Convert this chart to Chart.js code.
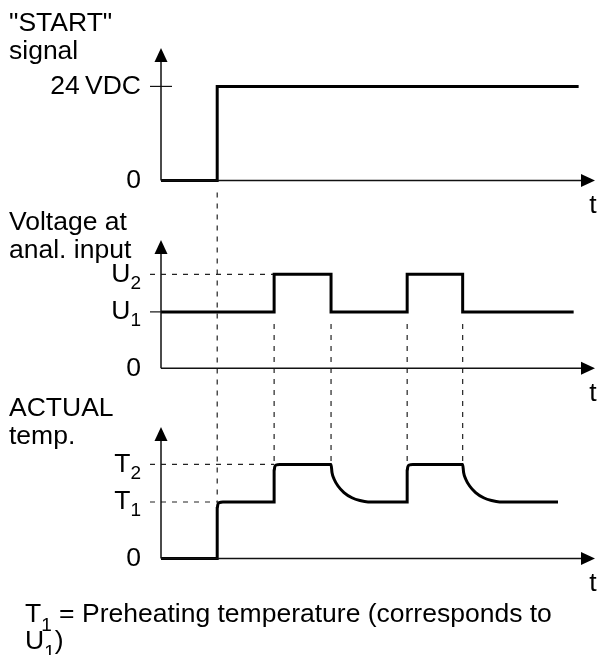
<!DOCTYPE html>
<html lang="en">
<head>
<meta charset="UTF-8">
<title>START signal timing</title>
<script src="https://cdn.jsdelivr.net/npm/chart.js@4.4.0/dist/chart.umd.min.js"></script>
<style>
  body { margin: 0; background: #fff; }
  .chart { width: 598px; height: 655px; }
</style>
</head>
<body>
<div class="chart"><canvas id="timing"></canvas></div>
<script>
// "START" signal (V) over t
const signalTime = [0, 3.95, 3.95, 29.35];
const signalLevel = [0, 0, 24, 24];

// voltage at the analog input, U1 = 6, U2 = 10
const inputTime = [0, 7.95, 7.95, 11.95, 11.95, 17.3, 17.3, 21.2, 21.2, 29];
const inputLevel = [6, 6, 10, 10, 6, 6, 10, 10, 6, 6];

// actual temperature, T1 = 60, T2 = 100 (rounded rises, curved cool-down)
const tempTime = [0, 3.95, 3.95, 3.99, 4.1, 4.35, 7.95, 7.95, 7.99, 8.1, 8.35,
                  11.95, 12.02, 12.16, 12.44, 12.86, 13.42, 13.98, 14.55,
                  17.3, 17.3, 17.34, 17.45, 17.7,
                  21.2, 21.27, 21.41, 21.69, 22.11, 22.67, 23.23, 23.8, 27.9];
const tempLevel = [0, 0, 53, 57, 59.3, 60, 60, 93, 97, 99.3, 100,
                   100, 91, 84.5, 77, 70, 64.5, 61.5, 60,
                   60, 93, 97, 99.3, 100,
                   100, 91, 84.5, 77, 70, 64.5, 61.5, 60, 60];

// switching instants that get dashed guide lines
const guideTimes = [3.95, 7.95, 11.95, 17.3, 21.2];

// tick values and labels [text, subscript]
const signalTicks = [0, 24];
const signalLabels = [['0', ''], ['24\u2009VDC', '']];
const inputTicks = [0, 6, 10];
const inputLabels = [['0', ''], ['U', '1'], ['U', '2']];
const tempTicks = [0, 60, 100];
const tempLabels = [['0', ''], ['T', '1'], ['T', '2']];

const FONT = '"Liberation Sans", Arial, sans-serif';
const MAIN = '26.5px ' + FONT;
const SUB = '19px ' + FONT;

const pts = (xs, ys) => xs.map((x, i) => ({x: x, y: ys[i]}));

// writes text runs, second item of each run = subscript flag
function runs(ctx, parts, x, y, align) {
  let w = 0;
  parts.forEach(p => { ctx.font = p[1] ? SUB : MAIN; w += ctx.measureText(p[0]).width; });
  let left = align === 'right' ? x - w : x;
  ctx.textAlign = 'left';
  parts.forEach(p => {
    ctx.font = p[1] ? SUB : MAIN;
    ctx.fillText(p[0], left, p[1] ? y + 9 : y);
    left += ctx.measureText(p[0]).width;
  });
}

const decor = {
  id: 'decor',
  beforeDatasetsDraw(chart) {
    const {ctx, scales} = chart;
    const x = scales.x;
    const x0 = x.getPixelForValue(0);
    ctx.save();
    ctx.strokeStyle = '#222';
    ctx.lineWidth = 1.2;
    ctx.setLineDash([5, 6]);
    const hDash = (scale, v, t) => {
      const y = scale.getPixelForValue(v);
      ctx.beginPath(); ctx.moveTo(x0 - 11, y); ctx.lineTo(x.getPixelForValue(t), y); ctx.stroke();
    };
    const vDash = (t, y1, y2) => {
      const px = x.getPixelForValue(t);
      ctx.beginPath(); ctx.moveTo(px, y1); ctx.lineTo(px, y2); ctx.stroke();
    };
    hDash(scales.yU, inputTicks[2], guideTimes[1]);
    hDash(scales.yT, tempTicks[2], guideTimes[1]);
    hDash(scales.yT, tempTicks[1], guideTimes[0]);
    // start edge reaches down to T1, the pulse edges run from U1 to T2
    vDash(guideTimes[0], scales.yS.getPixelForValue(0) + 12, scales.yT.getPixelForValue(tempTicks[1]));
    guideTimes.slice(1).forEach(t =>
      vDash(t, scales.yU.getPixelForValue(inputTicks[1]) + 12, scales.yT.getPixelForValue(tempTicks[2])));
    ctx.restore();
  },
  afterDatasetsDraw(chart) {
    const {ctx, scales} = chart;
    const x = scales.x;
    const x0 = x.getPixelForValue(0);
    const xEnd = x.right;
    ctx.save();
    ctx.fillStyle = '#000';
    ctx.strokeStyle = '#111';
    ctx.lineWidth = 1.5;
    const panels = [
      {scale: scales.yS, top: 33.8, ticks: signalTicks, labels: signalLabels},
      {scale: scales.yU, top: 13.65, ticks: inputTicks, labels: inputLabels},
      {scale: scales.yT, top: 139.8, ticks: tempTicks, labels: tempLabels}
    ];
    panels.forEach(p => {
      const yz = p.scale.getPixelForValue(0);
      const yt = p.scale.getPixelForValue(p.top);
      // axes
      ctx.beginPath();
      ctx.moveTo(x0, yz); ctx.lineTo(x0, yt + 10);
      ctx.moveTo(x0, yz); ctx.lineTo(xEnd - 10, yz);
      ctx.stroke();
      // arrow heads
      ctx.beginPath();
      ctx.moveTo(x0, yt); ctx.lineTo(x0 - 6.5, yt + 14); ctx.lineTo(x0 + 6.5, yt + 14); ctx.closePath();
      ctx.fill();
      ctx.beginPath();
      ctx.moveTo(xEnd, yz); ctx.lineTo(xEnd - 14, yz - 6.5); ctx.lineTo(xEnd - 14, yz + 6.5); ctx.closePath();
      ctx.fill();
      // tick labels
      ctx.textBaseline = 'middle';
      p.ticks.forEach((v, i) => {
        const y = p.scale.getPixelForValue(v);
        runs(ctx, [[p.labels[i][0], false], [p.labels[i][1], true]], x0 - 20, y, 'right');
      });
      ctx.font = MAIN;
      ctx.textAlign = 'center';
      ctx.fillText('t', xEnd - 2, yz + 25);
    });
    // solid tick marks
    ctx.lineWidth = 1.2;
    let y = scales.yS.getPixelForValue(signalTicks[1]);
    ctx.beginPath(); ctx.moveTo(x0 - 11, y); ctx.lineTo(x0 + 11, y); ctx.stroke();
    y = scales.yU.getPixelForValue(inputTicks[1]);
    ctx.beginPath(); ctx.moveTo(x0 - 11, y); ctx.lineTo(x0, y); ctx.stroke();

    // panel titles
    ctx.textBaseline = 'alphabetic';
    ctx.textAlign = 'left';
    ctx.font = MAIN;
    [['"START"', 31], ['signal', 59], ['Voltage at', 230], ['anal. input', 258],
     ['ACTUAL', 416], ['temp.', 444]].forEach(l => ctx.fillText(l[0], 9, l[1]));

    // footnote
    runs(ctx, [['T', false], ['1', true], [' = Preheating temperature (corresponds to', false]], 25, 622, 'left');
    runs(ctx, [['U', false], ['1', true], [')', false]], 25, 649, 'left');
    ctx.restore();
  }
};

const line = {borderColor: '#000', borderWidth: 3, pointRadius: 0, fill: false,
              borderJoinStyle: 'miter', borderCapStyle: 'butt'};

new Chart(document.getElementById('timing'), {
  type: 'line',
  data: {
    datasets: [
      Object.assign({label: 'START', data: pts(signalTime, signalLevel), yAxisID: 'yS', tension: 0}, line),
      Object.assign({label: 'U', data: pts(inputTime, inputLevel), yAxisID: 'yU', tension: 0}, line),
      Object.assign({label: 'T', data: pts(tempTime, tempLevel), yAxisID: 'yT',
                     cubicInterpolationMode: 'monotone'}, line)
    ]
  },
  options: {
    responsive: true,
    maintainAspectRatio: false,
    devicePixelRatio: 1,
    animation: false,
    layout: {padding: {left: 161, right: 3, top: 39.4, bottom: 54.6}},
    plugins: {legend: {display: false}, tooltip: {enabled: false}},
    scales: {
      x: {type: 'linear', min: 0, max: 30.5, display: false},
      // stacked bottom to top: temperature, input voltage, start signal
      yT: {type: 'linear', min: -44.7, max: 178.7, display: false, position: 'left',
           stack: 'panels', stackWeight: 210},
      yU: {type: 'linear', min: -2.35, max: 17.9, display: false, position: 'left',
           stack: 'panels', stackWeight: 190.4},
      yS: {type: 'linear', min: -5, max: 36, display: false, position: 'left',
           stack: 'panels', stackWeight: 160.6}
    }
  },
  plugins: [decor]
});
</script>
</body>
</html>
